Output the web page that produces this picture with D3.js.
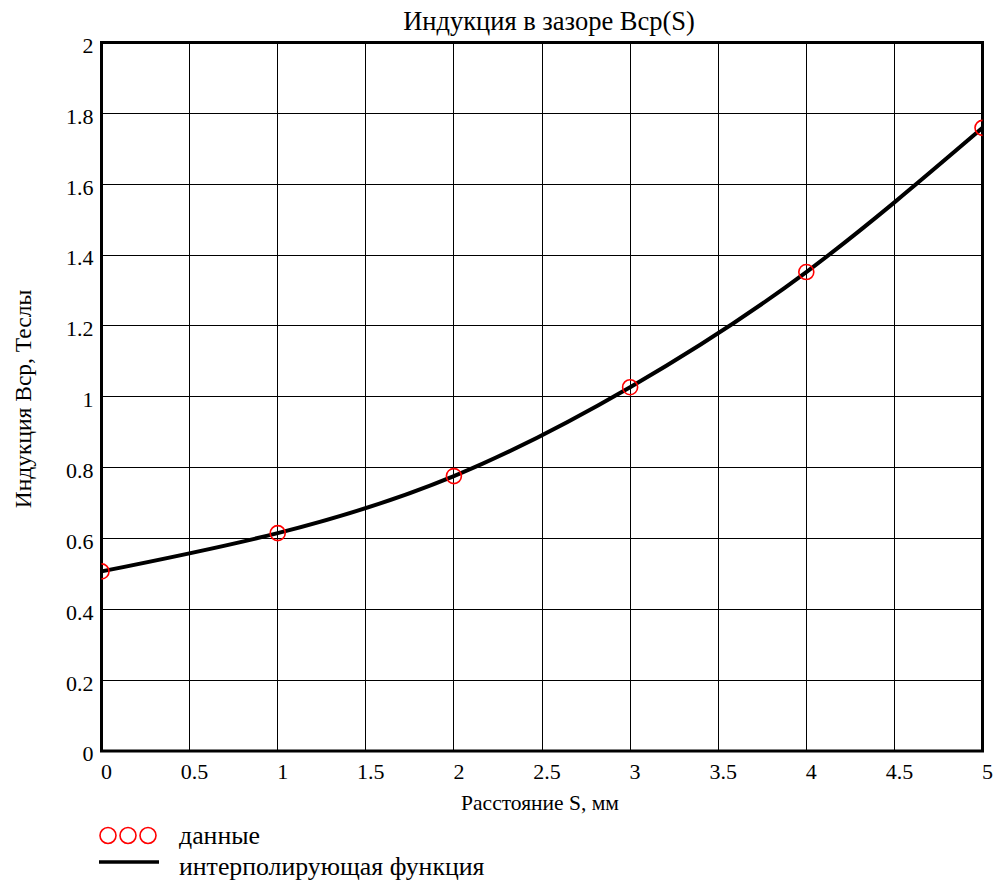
<!DOCTYPE html>
<html><head><meta charset="utf-8">
<script src="https://cdn.jsdelivr.net/npm/d3@7"></script>
<style>body{margin:0;background:#fff}svg{display:block}</style>
</head><body><svg id="c" width="994" height="883"></svg>
<script>
const distance = [0, 1, 2, 3, 4, 5];
const induction = [0.507, 0.615, 0.776, 1.027, 1.352, 1.759];
const xTicks = [0, 0.5, 1, 1.5, 2, 2.5, 3, 3.5, 4, 4.5, 5];
const yTicks = [0, 0.2, 0.4, 0.6, 0.8, 1, 1.2, 1.4, 1.6, 1.8, 2];
const titleText = "Индукция в зазоре Bcp(S)";
const xLabel = "Расстояние S, мм";
const yLabel = "Индукция Bcp, Теслы";
const legendItems = ["данные", "интерполирующая функция"];

const FONT = '"Liberation Serif", "Times New Roman", serif';
const svg = d3.select("#c").attr("font-family", FONT);
const L = 101.5, R = 982.5, T = 42.5, B = 751;
const x = d3.scaleLinear().domain([0, 5]).range([L, R]);
const y = d3.scaleLinear().domain([0, 2]).range([B, T]);
const data = distance.map((d, i) => ({x: d, y: induction[i]}));

svg.append("defs").append("clipPath").attr("id", "clip")
  .append("rect").attr("x", L).attr("y", T).attr("width", R - L).attr("height", B - T);

// grid
const grid = svg.append("g");
grid.selectAll("line.v").data(xTicks.slice(1, -1)).join("line")
  .attr("x1", d => x(d)).attr("x2", d => x(d)).attr("y1", T).attr("y2", B)
  .attr("stroke", "#000").attr("stroke-width", 1).attr("shape-rendering", "crispEdges");
grid.selectAll("line.h").data(yTicks.slice(1, -1)).join("line")
  .attr("y1", d => y(d)).attr("y2", d => y(d)).attr("x1", L).attr("x2", R)
  .attr("stroke", "#000").attr("stroke-width", 1).attr("shape-rendering", "crispEdges");

// axes via d3
const xAxis = svg.append("g").attr("transform", `translate(0,${B})`)
  .call(d3.axisBottom(x).tickValues(xTicks).tickSize(0).tickPadding(12).tickFormat(d3.format("")));
const yAxis = svg.append("g").attr("transform", `translate(${L},0)`)
  .call(d3.axisLeft(y).tickValues(yTicks).tickSize(0).tickPadding(8).tickFormat(d3.format("")));
[xAxis, yAxis].forEach(a => {
  a.attr("font-family", FONT).attr("font-size", 22);
  a.select(".domain").remove();
  a.selectAll("text").attr("fill", "#000");
});
xAxis.selectAll("text").attr("dy", "0.71em").attr("dx", 4.5);
yAxis.selectAll("text").attr("dy", "0.45em");

// frame
svg.append("rect").attr("x", L).attr("y", T).attr("width", R - L).attr("height", B - T)
  .attr("fill", "none").attr("stroke", "#000").attr("stroke-width", 3);

// interpolating curve
const line = d3.line().x(d => x(d.x)).y(d => y(d.y)).curve(d3.curveNatural);
svg.append("path").datum(data).attr("d", line).attr("fill", "none")
  .attr("stroke", "#000").attr("stroke-width", 4).attr("clip-path", "url(#clip)");

// data markers
svg.append("g").attr("clip-path", "url(#clip)").selectAll("circle").data(data).join("circle")
  .attr("cx", d => x(d.x)).attr("cy", d => y(d.y)).attr("r", 7.5)
  .attr("fill", "none").attr("stroke", "#ff0000").attr("stroke-width", 1.6);

// titles
svg.append("text").attr("x", 549).attr("y", 30).attr("text-anchor", "middle")
  .attr("font-size", 26.5).text(titleText);
svg.append("text").attr("x", 540).attr("y", 810).attr("text-anchor", "middle")
  .attr("font-size", 21.5).text(xLabel);
svg.append("text").attr("transform", "translate(31,399) rotate(-90)").attr("text-anchor", "middle")
  .attr("font-size", 23.5).text(yLabel);

// legend
const lg = svg.append("g");
[108, 128, 148].forEach(cx => lg.append("circle").attr("cx", cx).attr("cy", 835.5).attr("r", 8)
  .attr("fill", "none").attr("stroke", "#ff0000").attr("stroke-width", 1.6));
lg.append("line").attr("x1", 99).attr("x2", 159).attr("y1", 862).attr("y2", 862)
  .attr("stroke", "#000").attr("stroke-width", 3.5);
lg.append("text").attr("x", 179).attr("y", 844).attr("font-size", 25.8).text(legendItems[0]);
lg.append("text").attr("x", 179).attr("y", 875).attr("font-size", 25.8).text(legendItems[1]);
</script></body></html>
